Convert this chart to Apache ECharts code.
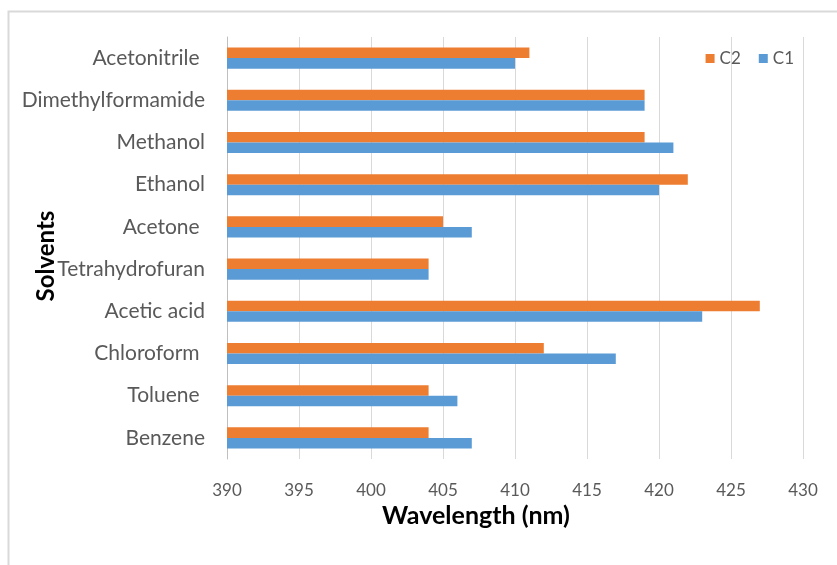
<!DOCTYPE html>
<html>
<head>
<meta charset="utf-8">
<script src="https://cdn.jsdelivr.net/npm/echarts@6/dist/echarts.min.js"></script>
<style>
  html, body { margin: 0; padding: 0; background: #ffffff; }
  #chart { width: 837px; height: 565px; }
</style>
</head>
<body>
<div id="chart"></div>
<script>
// Solvents listed bottom-to-top along the category axis
const solvents = ['Benzene', 'Toluene ', 'Chloroform ', 'Acetic acid', 'Tetrahydrofuran',
                  'Acetone ', 'Ethanol', 'Methanol', 'Dimethylformamide', 'Acetonitrile '];
// Absorption maxima (nm)
const c1Values = [407, 406, 417, 423, 404, 407, 420, 421, 419, 410];
const c2Values = [404, 404, 412, 427, 404, 405, 422, 419, 419, 411];
const xTicks = { min: 390, max: 430, interval: 5 };

const font = 'Lato, "Open Sans", sans-serif';
const chart = echarts.init(document.getElementById('chart'));
chart.setOption({
  backgroundColor: '#ffffff',
  animation: false,
  graphic: [{
    type: 'rect',
    shape: { x: 8.5, y: 11.5, width: 900, height: 700 },
    style: { fill: 'none', stroke: '#d9d9d9', lineWidth: 2 },
    silent: true
  }],
  legend: {
    data: ['C2', 'C1'],
    right: 38,
    top: 45,
    itemWidth: 9,
    itemHeight: 9,
    itemGap: 18,
    icon: 'rect',
    textStyle: { color: '#595959', fontSize: 17, fontFamily: font }
  },
  grid: { left: 227, right: 34, top: 37, bottom: 106, containLabel: false, outerBoundsMode: 'none' },
  xAxis: {
    type: 'value',
    min: xTicks.min,
    max: xTicks.max,
    interval: xTicks.interval,
    name: 'Wavelength (nm)',
    nameLocation: 'middle',
    nameGap: 44,
    nameMoveOverlap: false,
    nameTextStyle: {
      color: '#000000', fontSize: 25, fontWeight: 'bold', fontFamily: font,
      padding: [0, 78, 0, 0]
    },
    axisLine: { show: false },
    axisTick: { show: false },
    axisLabel: { color: '#595959', fontSize: 17, fontFamily: font, margin: 23 },
    splitLine: { show: true, lineStyle: { color: '#d9d9d9', width: 1 } }
  },
  yAxis: {
    type: 'category',
    data: solvents,
    name: 'Solvents',
    nameLocation: 'middle',
    nameGap: 169,
    nameMoveOverlap: false,
    nameRotate: 90,
    nameTextStyle: {
      color: '#000000', fontSize: 24, fontWeight: 'bold', fontFamily: font,
      padding: [0, 16, 0, 0]
    },
    axisLine: { show: true, lineStyle: { color: '#bfbfbf', width: 1 } },
    axisTick: { show: false },
    axisLabel: { color: '#595959', fontSize: 21, fontFamily: font, margin: 22 },
    splitLine: { show: false }
  },
  series: [
    {
      name: 'C2',
      type: 'bar',
      data: c2Values,
      itemStyle: { color: '#ed7d31' },
      barGap: '0%',
      barCategoryGap: '50%'
    },
    {
      name: 'C1',
      type: 'bar',
      data: c1Values,
      itemStyle: { color: '#5b9bd5' },
      barGap: '0%',
      barCategoryGap: '50%'
    }
  ]
});
</script>
</body>
</html>
